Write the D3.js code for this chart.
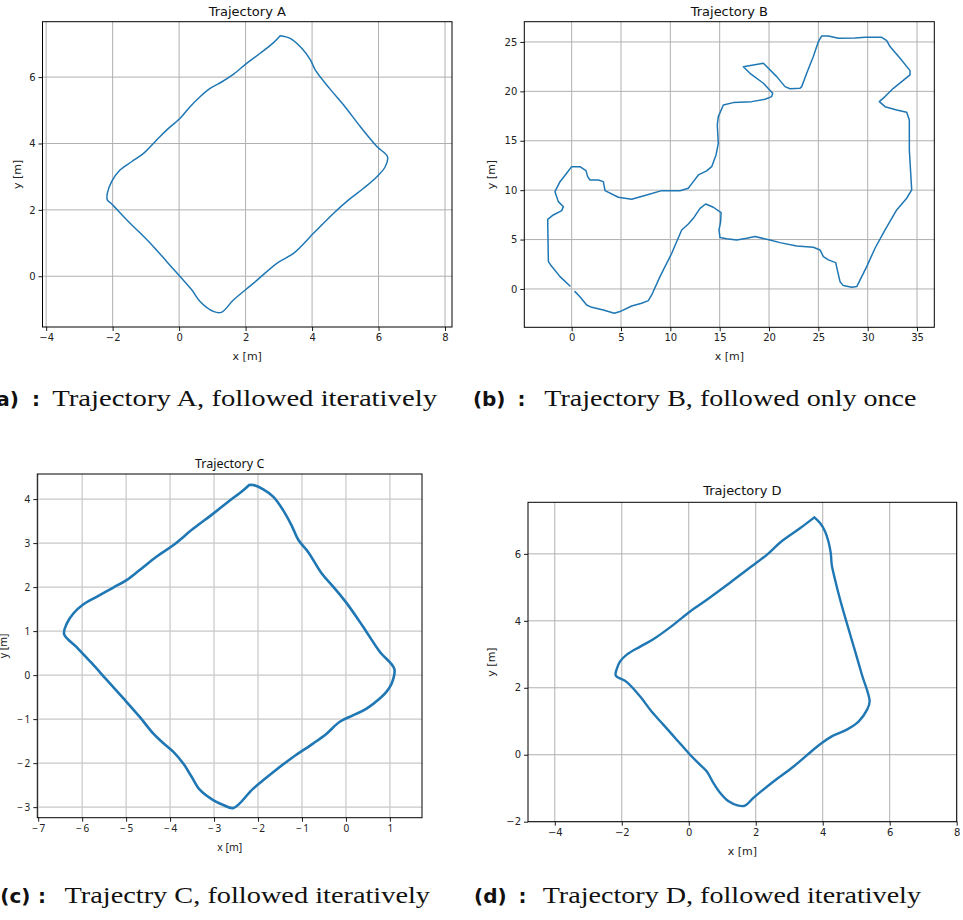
<!DOCTYPE html>
<html>
<head>
<meta charset="utf-8">
<script src="https://cdn.jsdelivr.net/npm/d3@7"></script>
<style>
  html, body { margin: 0; padding: 0; background: #fff; }
  svg { display: block; }
</style>
</head>
<body>
<svg id="chart" width="963" height="920"></svg>
<script>
// ---------------- DATA ----------------
const titles = ["Trajectory A", "Trajectory B", "Trajectory C", "Trajectory D"];
const captionLabels = ["(a)", "(b)", "(c)", "(d)"];
const captionTexts = [
  "Trajectory A, followed iteratively",
  "Trajectory B, followed only once",
  "Trajectry C, followed iteratively",
  "Trajectory D, followed iteratively"
];

const ticksAx = [-4, -2, 0, 2, 4, 6, 8];
const ticksAy = [0, 2, 4, 6];
const ticksBx = [0, 5, 10, 15, 20, 25, 30, 35];
const ticksBy = [0, 5, 10, 15, 20, 25];
const ticksCx = [-7, -6, -5, -4, -3, -2, -1, 0, 1];
const ticksCy = [-3, -2, -1, 0, 1, 2, 3, 4];
const ticksDx = [-4, -2, 0, 2, 4, 6, 8];
const ticksDy = [-2, 0, 2, 4, 6];

const trajA = [
  [3.04,7.25],[3.34,7.17],[3.69,6.87],[3.95,6.52],[4.10,6.21],[4.55,5.63],[4.95,5.16],
  [5.45,4.51],[5.95,3.91],[6.27,3.60],[6.20,3.30],[5.95,3.00],[5.55,2.65],[5.10,2.30],
  [4.65,1.90],[4.05,1.30],[3.44,0.69],[2.94,0.39],[2.24,-0.21],[1.64,-0.71],[1.27,-1.09],
  [1.03,-1.06],[0.63,-0.76],[0.38,-0.41],[0.03,-0.01],[-0.37,0.44],[-0.77,0.89],
  [-1.17,1.30],[-1.58,1.70],[-2.03,2.18],[-2.16,2.30],[-2.16,2.50],[-2.03,2.85],
  [-1.78,3.20],[-1.43,3.45],[-1.07,3.70],[-0.67,4.11],[-0.37,4.41],[0.03,4.76],
  [0.33,5.11],[0.63,5.41],[0.93,5.66],[1.29,5.86],[1.64,6.09],[2.04,6.42],[2.44,6.72],
  [2.84,7.04],[3.04,7.25]
];

const trajB = [
  [0.34,-0.27],[0.84,-0.78],[1.52,-1.62],[2.03,-1.86],[3.21,-2.13],[4.32,-2.46],[4.90,-2.29],
  [6.08,-1.72],[7.09,-1.45],[7.77,-1.18],[8.11,-0.61],[8.95,1.25],[10.14,3.61],[11.15,5.97],
  [11.82,6.58],[12.33,7.15],[13.01,8.16],[13.58,8.60],[14.36,8.27],[15.14,7.73],[15.10,6.82],
  [14.93,5.97],[15.03,5.20],[15.71,5.09],[16.72,4.96],[17.74,5.13],[18.58,5.30],[20.10,4.96],
  [21.11,4.69],[22.80,4.35],[24.49,4.22],[25.17,3.95],[25.51,3.27],[26.01,2.94],[26.76,2.67],
  [26.96,1.75],[27.20,0.74],[27.53,0.34],[28.38,0.17],[28.89,0.24],[29.90,2.26],[30.74,4.12],
  [31.76,5.97],[32.94,8.00],[33.95,9.18],[34.46,10.02],[34.36,11.71],[34.22,14.07],[34.22,17.11],
  [33.95,17.88],[32.94,18.12],[31.76,18.45],[31.18,18.96],[31.76,19.47],[32.60,20.31],
  [33.45,20.99],[34.29,21.66],[34.29,22.10],[33.28,23.35],[32.26,24.53],[31.93,25.13],
  [31.42,25.47],[29.73,25.47],[28.72,25.40],[27.03,25.37],[26.01,25.61],[25.34,25.61],
  [25.00,25.03],[24.49,23.52],[23.82,21.83],[23.31,20.48],[23.14,20.31],[22.13,20.27],
  [21.62,20.48],[20.78,21.49],[19.43,22.84],[17.40,22.50],[18.07,21.83],[19.43,20.82],
  [20.37,19.80],[20.27,19.47],[19.59,19.20],[18.24,18.96],[16.39,18.86],[15.37,18.62],
  [14.86,17.44],[14.76,16.60],[14.86,14.74],[14.63,13.56],[14.19,12.38],[13.68,11.95],
  [12.84,11.54],[12.33,10.86],[11.82,10.19],[10.98,9.95],[9.12,9.95],[7.60,9.51],[6.08,9.08],
  [4.73,9.28],[3.38,9.95],[3.21,10.86],[2.70,11.03],[1.86,11.03],[1.62,11.37],[1.45,11.98],
  [0.84,12.38],[0.00,12.38],[-0.51,11.71],[-1.18,10.86],[-1.69,9.85],[-1.35,8.84],[-0.84,8.33],
  [-1.01,7.93],[-1.86,7.49],[-2.43,7.05],[-2.36,2.77],[-2.13,2.43],[-1.18,1.25],[-0.17,0.30]
];

const trajC = [
  [-2.20,4.32],[-2.11,4.32],[-1.88,4.22],[-1.65,4.05],[-1.43,3.75],[-1.24,3.41],[-1.08,3.07],
  [-0.86,2.80],[-0.55,2.31],[-0.29,2.01],[0.02,1.63],[0.39,1.10],[0.77,0.53],[1.10,0.14],
  [1.04,-0.19],[0.92,-0.38],[0.77,-0.53],[0.47,-0.76],[0.17,-0.91],[-0.14,-1.06],[-0.44,-1.33],
  [-0.74,-1.55],[-1.20,-1.86],[-1.65,-2.20],[-2.11,-2.58],[-2.56,-3.02],[-2.79,-2.95],
  [-3.02,-2.84],[-3.32,-2.61],[-3.51,-2.31],[-3.70,-2.01],[-3.93,-1.74],[-4.15,-1.55],
  [-4.38,-1.33],[-4.69,-0.95],[-5.06,-0.53],[-5.44,-0.11],[-5.78,0.27],[-6.13,0.64],
  [-6.41,0.93],[-6.35,1.17],[-6.20,1.40],[-5.97,1.61],[-5.67,1.78],[-5.29,1.99],[-4.99,2.16],
  [-4.69,2.39],[-4.31,2.69],[-3.93,2.95],[-3.47,3.33],[-3.02,3.67],[-2.56,4.03],[-2.37,4.17],
  [-2.20,4.32]
];

const trajD = [
  [3.75,7.09],[3.92,6.92],[4.07,6.67],[4.17,6.37],[4.24,6.02],[4.27,5.67],[4.37,5.22],
  [4.52,4.63],[4.72,3.93],[4.97,3.08],[5.17,2.39],[5.40,1.59],[5.32,1.34],[5.07,0.99],
  [4.72,0.75],[4.27,0.55],[3.97,0.35],[3.72,0.15],[3.13,-0.35],[2.53,-0.80],[1.93,-1.29],
  [1.68,-1.52],[1.48,-1.52],[1.19,-1.39],[0.94,-1.14],[0.74,-0.85],[0.54,-0.50],[0.34,-0.30],
  [0.04,0.00],[-0.36,0.45],[-0.76,0.90],[-1.11,1.29],[-1.45,1.74],[-1.85,2.17],[-2.18,2.37],
  [-2.15,2.56],[-2.05,2.79],[-1.85,2.99],[-1.45,3.23],[-1.06,3.45],[-0.46,3.88],[0.04,4.28],
  [0.54,4.63],[1.14,5.07],[1.73,5.52],[2.33,5.97],[2.73,6.34],[3.33,6.77],[3.75,7.09]
];

// ---------------- LAYOUT ----------------
const svg = d3.select("#chart");
const BLUE = "#1f77b4";
const MPL_FONT = "'DejaVu Sans', sans-serif";
const ALT_FONT = "'Noto Sans', 'DejaVu Sans', sans-serif";
const smooth = d3.curveCatmullRom.alpha(0.5);

const panels = [
  { data: trajA, title: titles[0], box: [42.5, 452, 21.7, 327], xd: [-4.11, 8.21], yd: [-1.53, 7.67],
    tx: ticksAx, ty: ticksAy, lw: 1.5, font: MPL_FONT, grid: "#b0b0b0", gridW: 1, curve: smooth,
    titleY: 11, xlabY: 356, ylabX: 17.7, tickFs: 10, labFs: 11, titleFs: 13, minus: "\u2212" },
  { data: trajB, title: titles[1], box: [524.3, 934.3, 21.7, 327.3], xd: [-4.8, 36.75], yd: [-3.88, 27.05],
    tx: ticksBx, ty: ticksBy, lw: 1.5, font: MPL_FONT, grid: "#b0b0b0", gridW: 1, curve: d3.curveLinear,
    titleY: 11, xlabY: 356, ylabX: 491.7, tickFs: 10, labFs: 11, titleFs: 13, minus: "\u2212" },
  { data: trajC, title: titles[2], box: [37.3, 422, 474, 817.7], xd: [-7.02, 1.73], yd: [-3.24, 4.57],
    tx: ticksCx, ty: ticksCy, lw: 2.6, font: ALT_FONT, grid: "#c8c8c8", gridW: 1.2, curve: smooth,
    titleY: 463.5, xlabY: 847, ylabX: 3, tickFs: 10, labFs: 10.5, titleFs: 12.5, minus: "\u2212\u2009" },
  { data: trajD, title: titles[3], box: [528, 956.7, 502.3, 821.7], xd: [-4.8, 8], yd: [-2, 7.54],
    tx: ticksDx, ty: ticksDy, lw: 2.4, font: MPL_FONT, grid: "#b0b0b0", gridW: 1, curve: smooth,
    titleY: 490, xlabY: 851, ylabX: 491.7, tickFs: 10, labFs: 11, titleFs: 13, minus: "\u2212" }
];

panels.forEach((p, i) => {
  const [l, r, t, b] = p.box;
  const x = d3.scaleLinear().domain(p.xd).range([l, r]);
  const y = d3.scaleLinear().domain(p.yd).range([b, t]);
  const g = svg.append("g");
  const fmt = v => (v < 0 ? p.minus + Math.abs(v) : String(v));

  // grid
  g.append("g").selectAll("line").data(p.tx).join("line")
    .attr("x1", d => x(d)).attr("x2", d => x(d)).attr("y1", t).attr("y2", b)
    .attr("stroke", p.grid).attr("stroke-width", p.gridW);
  g.append("g").selectAll("line").data(p.ty).join("line")
    .attr("y1", d => y(d)).attr("y2", d => y(d)).attr("x1", l).attr("x2", r)
    .attr("stroke", p.grid).attr("stroke-width", p.gridW);

  // clip + line
  const cid = "clip" + i;
  svg.append("defs").append("clipPath").attr("id", cid)
    .append("rect").attr("x", l).attr("y", t).attr("width", r - l).attr("height", b - t);
  g.append("path").datum(p.data)
    .attr("clip-path", `url(#${cid})`)
    .attr("fill", "none").attr("stroke", BLUE).attr("stroke-width", p.lw)
    .attr("stroke-linejoin", "round").attr("stroke-linecap", "round")
    .attr("d", d3.line().curve(p.curve).x(d => x(d[0])).y(d => y(d[1])));

  // axes
  const ax = g.append("g").attr("transform", `translate(0,${b})`)
    .call(d3.axisBottom(x).tickValues(p.tx).tickFormat(fmt).tickSize(4).tickPadding(3).tickSizeOuter(0));
  const ay = g.append("g").attr("transform", `translate(${l},0)`)
    .call(d3.axisLeft(y).tickValues(p.ty).tickFormat(fmt).tickSize(4).tickPadding(3).tickSizeOuter(0));
  [ax, ay].forEach(a => {
    a.select(".domain").remove();
    a.selectAll("line").attr("stroke", "#000").attr("stroke-width", 0.9);
    a.selectAll("text").attr("fill", "#222").style("font-family", p.font).style("font-size", p.tickFs + "px");
  });

  // frame
  g.append("rect").attr("x", l).attr("y", t).attr("width", r - l).attr("height", b - t)
    .attr("fill", "none").attr("stroke", "#000").attr("stroke-width", 1);

  // title + labels
  const cx = (l + r) / 2;
  g.append("text").attr("x", cx).attr("y", p.titleY).attr("text-anchor", "middle")
    .attr("dominant-baseline", "central").style("font-family", p.font).style("font-size", p.titleFs + "px")
    .attr("fill", "#111").text(p.title);
  g.append("text").attr("x", cx).attr("y", p.xlabY).attr("text-anchor", "middle")
    .attr("dominant-baseline", "central").style("font-family", p.font).style("font-size", p.labFs + "px")
    .attr("fill", "#222").text("x [m]");
  g.append("text").attr("transform", `translate(${p.ylabX},${(t + b) / 2}) rotate(-90)`)
    .attr("text-anchor", "middle").attr("dominant-baseline", "central")
    .style("font-family", p.font).style("font-size", p.labFs + "px").attr("fill", "#222").text("y [m]");
});

// ---------------- CAPTIONS ----------------
const caps = [
  { lab: captionLabels[0], labEnd: 19, colon: 32, tx: 52.3, tEnd: 437, base: 406 },
  { lab: captionLabels[1], labEnd: 505.5, colon: 517.5, tx: 544.3, tEnd: 916.5, base: 406 },
  { lab: captionLabels[2], labEnd: 30.5, colon: 38, tx: 64.5, tEnd: 430, base: 903 },
  { lab: captionLabels[3], labEnd: 506.7, colon: 518.5, tx: 542.7, tEnd: 921, base: 903 }
];
caps.forEach((c, i) => {
  svg.append("text").attr("x", c.labEnd).attr("y", c.base).attr("text-anchor", "end")
    .style("font-family", "'DejaVu Sans', sans-serif").style("font-weight", "bold")
    .style("font-size", "20px").attr("fill", "#111").text(c.lab);
  svg.append("text").attr("x", c.colon).attr("y", c.base)
    .style("font-family", "'DejaVu Sans', sans-serif").style("font-weight", "bold")
    .style("font-size", "20px").attr("fill", "#111").text(":");
  svg.append("text").attr("x", c.tx).attr("y", c.base)
    .style("font-family", "'Liberation Serif', serif").style("font-size", "23px").attr("fill", "#111")
    .attr("textLength", c.tEnd - c.tx).attr("lengthAdjust", "spacingAndGlyphs")
    .text(captionTexts[i]);
});
</script>
</body>
</html>
